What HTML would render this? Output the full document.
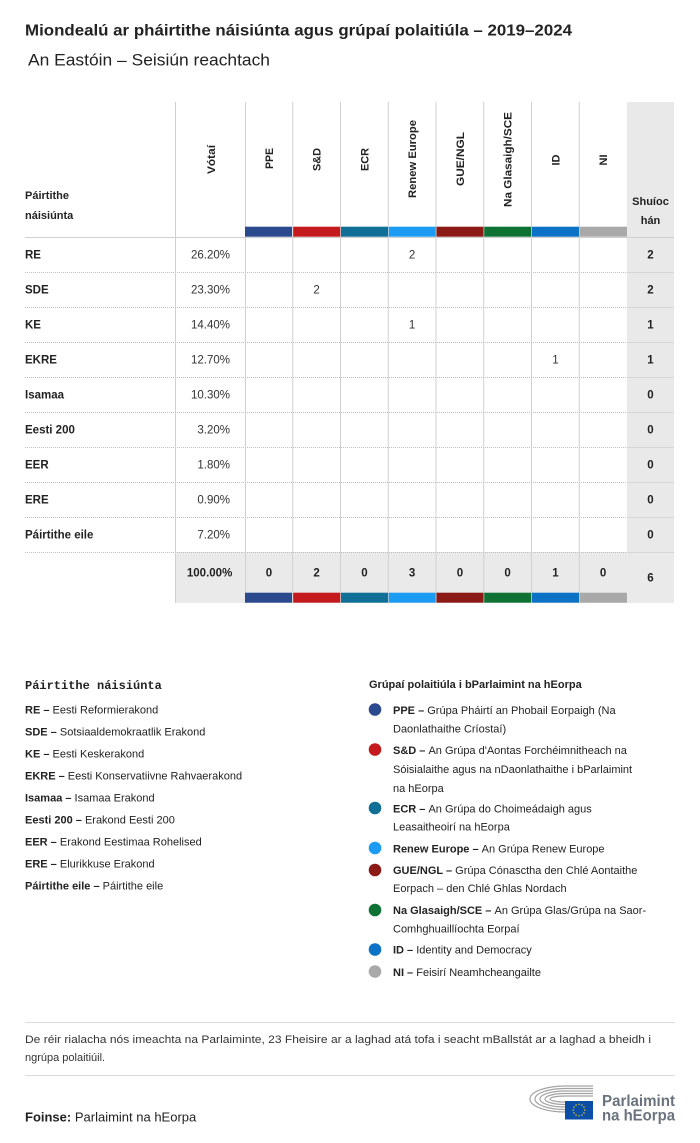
<!DOCTYPE html>
<html><head><meta charset="utf-8">
<style>
html,body{margin:0;padding:0;background:#fff;}
svg{display:block;}
text{font-family:"Liberation Sans",sans-serif;fill:#222;}
.b{font-weight:bold;}
.lbl{font-size:11.5px;font-weight:bold;}
.pct{font-size:11.5px;text-anchor:end;fill:#333;}
.num{font-size:11.5px;text-anchor:middle;fill:#333;}
.tot{font-size:11.5px;text-anchor:middle;font-weight:bold;}
.rot{font-size:11px;font-weight:bold;text-anchor:middle;}
.lg{font-size:11px;}
</style></head>
<body>
<svg width="700" height="1143" viewBox="0 0 700 1143" xmlns="http://www.w3.org/2000/svg">
<rect width="700" height="1143" fill="#fff"/>
<!-- Title -->
<text x="25" y="35.7" class="b" font-size="16" textLength="547" lengthAdjust="spacingAndGlyphs">Miondealú ar pháirtithe náisiúnta agus grúpaí polaitiúla – 2019–2024</text>
<text x="28" y="65.7" font-size="17" textLength="242" lengthAdjust="spacingAndGlyphs">An Eastóin – Seisiún reachtach</text>

<!-- Gray column and total row -->
<rect x="627" y="102" width="47" height="501" fill="#e9e9e9"/>
<rect x="175" y="552" width="499" height="51" fill="#eaeaea"/>

<!-- header bottom line -->
<line x1="25" y1="237.5" x2="674" y2="237.5" stroke="#cfcfcf" stroke-width="1"/>
<!-- dotted row lines -->
<g stroke="#bdbdbd" stroke-width="1" stroke-dasharray="1,1">
<line x1="25" y1="272.5" x2="627" y2="272.5"/>
<line x1="25" y1="307.5" x2="627" y2="307.5"/>
<line x1="25" y1="342.5" x2="627" y2="342.5"/>
<line x1="25" y1="377.5" x2="627" y2="377.5"/>
<line x1="25" y1="412.5" x2="627" y2="412.5"/>
<line x1="25" y1="447.5" x2="627" y2="447.5"/>
<line x1="25" y1="482.5" x2="627" y2="482.5"/>
<line x1="25" y1="517.5" x2="627" y2="517.5"/>
<line x1="25" y1="552.5" x2="627" y2="552.5"/>
</g>
<g stroke="#d6d6d6" stroke-width="1">
<line x1="627" y1="272.5" x2="674" y2="272.5"/>
<line x1="627" y1="307.5" x2="674" y2="307.5"/>
<line x1="627" y1="342.5" x2="674" y2="342.5"/>
<line x1="627" y1="377.5" x2="674" y2="377.5"/>
<line x1="627" y1="412.5" x2="674" y2="412.5"/>
<line x1="627" y1="447.5" x2="674" y2="447.5"/>
<line x1="627" y1="482.5" x2="674" y2="482.5"/>
<line x1="627" y1="517.5" x2="674" y2="517.5"/>
<line x1="627" y1="552.5" x2="674" y2="552.5"/>
</g>
<!-- vertical lines -->
<g stroke="#d0d0d0" stroke-width="1">
<line x1="175.5" y1="102" x2="175.5" y2="603"/>
<line x1="245.5" y1="102" x2="245.5" y2="603"/>
<line x1="292.75" y1="102" x2="292.75" y2="603"/>
<line x1="340.5" y1="102" x2="340.5" y2="603"/>
<line x1="388.25" y1="102" x2="388.25" y2="603"/>
<line x1="436" y1="102" x2="436" y2="603"/>
<line x1="483.75" y1="102" x2="483.75" y2="603"/>
<line x1="531.5" y1="102" x2="531.5" y2="603"/>
<line x1="579.25" y1="102" x2="579.25" y2="603"/>
</g>
<!-- header color bars -->
<g>
<rect x="245" y="226.7" width="47" height="10" fill="#2b4a8e"/>
<rect x="293.2" y="226.7" width="47" height="10" fill="#c4191d"/>
<rect x="341" y="226.7" width="47" height="10" fill="#0f6f96"/>
<rect x="388.7" y="226.7" width="47" height="10" fill="#1b9cf2"/>
<rect x="436.5" y="226.7" width="47" height="10" fill="#8b1a16"/>
<rect x="484.2" y="226.7" width="47" height="10" fill="#0e7235"/>
<rect x="532" y="226.7" width="47" height="10" fill="#0b72c5"/>
<rect x="579.7" y="226.7" width="47.3" height="10" fill="#a9a9a9"/>
</g>
<g>
<rect x="245" y="592.7" width="47" height="10" fill="#2b4a8e"/>
<rect x="293.2" y="592.7" width="47" height="10" fill="#c4191d"/>
<rect x="341" y="592.7" width="47" height="10" fill="#0f6f96"/>
<rect x="388.7" y="592.7" width="47" height="10" fill="#1b9cf2"/>
<rect x="436.5" y="592.7" width="47" height="10" fill="#8b1a16"/>
<rect x="484.2" y="592.7" width="47" height="10" fill="#0e7235"/>
<rect x="532" y="592.7" width="47" height="10" fill="#0b72c5"/>
<rect x="579.7" y="592.7" width="47.3" height="10" fill="#a9a9a9"/>
</g>

<!-- header labels -->
<text x="25" y="199" class="b" font-size="11">Páirtithe</text>
<text x="25" y="219" class="b" font-size="11">náisiúnta</text>
<text x="650.5" y="205" class="b" font-size="11" text-anchor="middle">Shuíoc</text>
<text x="650.5" y="224" class="b" font-size="11" text-anchor="middle">hán</text>

<text class="rot" transform="translate(215,159.5) rotate(-90)" textLength="29" lengthAdjust="spacingAndGlyphs">Vótaí</text>
<text class="rot" transform="translate(273,158.5) rotate(-90)" textLength="21" lengthAdjust="spacingAndGlyphs">PPE</text>
<text class="rot" transform="translate(320.6,159.5) rotate(-90)" textLength="23" lengthAdjust="spacingAndGlyphs">S&amp;D</text>
<text class="rot" transform="translate(368.4,159.5) rotate(-90)" textLength="23" lengthAdjust="spacingAndGlyphs">ECR</text>
<text class="rot" transform="translate(416.1,159) rotate(-90)" textLength="78" lengthAdjust="spacingAndGlyphs">Renew Europe</text>
<text class="rot" transform="translate(463.9,159) rotate(-90)" textLength="54" lengthAdjust="spacingAndGlyphs">GUE/NGL</text>
<text class="rot" transform="translate(511.6,159.5) rotate(-90)" textLength="95" lengthAdjust="spacingAndGlyphs">Na Glasaigh/SCE</text>
<text class="rot" transform="translate(559.4,160) rotate(-90)">ID</text>
<text class="rot" transform="translate(607.1,160) rotate(-90)">NI</text>

<!-- rows -->
<g>
<text x="25" y="258.5" class="lbl">RE</text>
<text x="25" y="293.5" class="lbl">SDE</text>
<text x="25" y="328.5" class="lbl">KE</text>
<text x="25" y="363.5" class="lbl">EKRE</text>
<text x="25" y="398.5" class="lbl">Isamaa</text>
<text x="25" y="433.5" class="lbl">Eesti 200</text>
<text x="25" y="468.5" class="lbl">EER</text>
<text x="25" y="503.5" class="lbl">ERE</text>
<text x="25" y="538.5" class="lbl">Páirtithe eile</text>

<text x="230" y="258.5" class="pct">26.20%</text>
<text x="230" y="293.5" class="pct">23.30%</text>
<text x="230" y="328.5" class="pct">14.40%</text>
<text x="230" y="363.5" class="pct">12.70%</text>
<text x="230" y="398.5" class="pct">10.30%</text>
<text x="230" y="433.5" class="pct">3.20%</text>
<text x="230" y="468.5" class="pct">1.80%</text>
<text x="230" y="503.5" class="pct">0.90%</text>
<text x="230" y="538.5" class="pct">7.20%</text>

<text x="412.1" y="258.5" class="num">2</text>
<text x="316.6" y="293.5" class="num">2</text>
<text x="412.1" y="328.5" class="num">1</text>
<text x="555.4" y="363.5" class="num">1</text>

<text x="650.5" y="258.5" class="tot">2</text>
<text x="650.5" y="293.5" class="tot">2</text>
<text x="650.5" y="328.5" class="tot">1</text>
<text x="650.5" y="363.5" class="tot">1</text>
<text x="650.5" y="398.5" class="tot">0</text>
<text x="650.5" y="433.5" class="tot">0</text>
<text x="650.5" y="468.5" class="tot">0</text>
<text x="650.5" y="503.5" class="tot">0</text>
<text x="650.5" y="538.5" class="tot">0</text>
</g>
<!-- totals -->
<g>
<text x="232.3" y="576.5" class="tot" style="text-anchor:end">100.00%</text>
<text x="268.9" y="576.5" class="tot">0</text>
<text x="316.6" y="576.5" class="tot">2</text>
<text x="364.4" y="576.5" class="tot">0</text>
<text x="412.1" y="576.5" class="tot">3</text>
<text x="459.9" y="576.5" class="tot">0</text>
<text x="507.6" y="576.5" class="tot">0</text>
<text x="555.4" y="576.5" class="tot">1</text>
<text x="603.1" y="576.5" class="tot">0</text>
<text x="650.5" y="581.5" class="tot">6</text>
</g>

<!-- left legend -->
<text x="25" y="689" style="font-family:'Liberation Mono',monospace" font-size="12" font-weight="bold">Páirtithe náisiúnta</text>
<g>
<text x="25" y="713.5" class="lg"><tspan class="b">RE – </tspan>Eesti Reformierakond</text>
<text x="25" y="735.5" class="lg"><tspan class="b">SDE – </tspan>Sotsiaaldemokraatlik Erakond</text>
<text x="25" y="757.5" class="lg"><tspan class="b">KE – </tspan>Eesti Keskerakond</text>
<text x="25" y="779.5" class="lg"><tspan class="b">EKRE – </tspan>Eesti Konservatiivne Rahvaerakond</text>
<text x="25" y="801.5" class="lg"><tspan class="b">Isamaa – </tspan>Isamaa Erakond</text>
<text x="25" y="823.5" class="lg"><tspan class="b">Eesti 200 – </tspan>Erakond Eesti 200</text>
<text x="25" y="845.5" class="lg"><tspan class="b">EER – </tspan>Erakond Eestimaa Rohelised</text>
<text x="25" y="867.5" class="lg"><tspan class="b">ERE – </tspan>Elurikkuse Erakond</text>
<text x="25" y="889.5" class="lg"><tspan class="b">Páirtithe eile – </tspan>Páirtithe eile</text>
</g>

<!-- right legend -->
<text x="369" y="688" class="b" font-size="11">Grúpaí polaitiúla i bParlaimint na hEorpa</text>
<g>
<circle cx="375" cy="709.5" r="6.3" fill="#2b4a8e"/>
<circle cx="375" cy="749.5" r="6.3" fill="#c4191d"/>
<circle cx="375" cy="808" r="6.3" fill="#0f6f96"/>
<circle cx="375" cy="848" r="6.3" fill="#1b9cf2"/>
<circle cx="375" cy="870" r="6.3" fill="#8b1a16"/>
<circle cx="375" cy="910" r="6.3" fill="#0e7235"/>
<circle cx="375" cy="949.5" r="6.3" fill="#0b72c5"/>
<circle cx="375" cy="971.5" r="6.3" fill="#a9a9a9"/>
</g>
<g>
<text x="393" y="714" class="lg"><tspan class="b">PPE – </tspan>Grúpa Pháirtí an Phobail Eorpaigh (Na</text>
<text x="393" y="732.5" class="lg">Daonlathaithe Críostaí)</text>
<text x="393" y="754" class="lg"><tspan class="b">S&amp;D – </tspan>An Grúpa d'Aontas Forchéimnitheach na</text>
<text x="393" y="773" class="lg">Sóisialaithe agus na nDaonlathaithe i bParlaimint</text>
<text x="393" y="792" class="lg">na hEorpa</text>
<text x="393" y="812.5" class="lg"><tspan class="b">ECR – </tspan>An Grúpa do Choimeádaigh agus</text>
<text x="393" y="830.5" class="lg">Leasaitheoirí na hEorpa</text>
<text x="393" y="852.5" class="lg"><tspan class="b">Renew Europe – </tspan>An Grúpa Renew Europe</text>
<text x="393" y="874" class="lg"><tspan class="b">GUE/NGL – </tspan>Grúpa Cónasctha den Chlé Aontaithe</text>
<text x="393" y="892" class="lg">Eorpach – den Chlé Ghlas Nordach</text>
<text x="393" y="914" class="lg"><tspan class="b">Na Glasaigh/SCE – </tspan>An Grúpa Glas/Grúpa na Saor-</text>
<text x="393" y="932.5" class="lg">Comhghuaillíochta Eorpaí</text>
<text x="393" y="953.5" class="lg"><tspan class="b">ID – </tspan>Identity and Democracy</text>
<text x="393" y="976" class="lg"><tspan class="b">NI – </tspan>Feisirí Neamhcheangailte</text>
</g>

<!-- footer -->
<line x1="25" y1="1022.5" x2="675" y2="1022.5" stroke="#dcdcdc" stroke-width="1"/>
<text x="25" y="1043" font-size="11" style="fill:#333" textLength="626" lengthAdjust="spacingAndGlyphs">De réir rialacha nós imeachta na Parlaiminte, 23 Fheisire ar a laghad atá tofa i seacht mBallstát ar a laghad a bheidh i</text>
<text x="25" y="1061" font-size="11" style="fill:#333">ngrúpa polaitiúil.</text>
<line x1="25" y1="1075.5" x2="675" y2="1075.5" stroke="#dcdcdc" stroke-width="1"/>
<text x="25" y="1121.5" font-size="13"><tspan class="b">Foinse:</tspan> Parlaimint na hEorpa</text>

<!-- logo -->
<g fill="none" stroke="#a3a3a3" stroke-width="1.2">
<path d="M 593 1086 L 565 1086 A 35 13 0 0 0 565 1112"/>
<path d="M 593 1088.5 L 565 1088.5 A 30 10.5 0 0 0 565 1109.5"/>
<path d="M 593 1091 L 565 1091 A 25 8 0 0 0 565 1107"/>
<path d="M 593 1093.5 L 565 1093.5 A 20 5.5 0 0 0 565 1104.5"/>
<path d="M 593 1096 L 565 1096 A 15 3 0 0 0 565 1102"/>
</g>
<rect x="565" y="1101" width="28" height="18.5" fill="#0b4ea6"/>
<g fill="#ffd617">
<circle cx="579" cy="1104.3" r="0.7"/>
<circle cx="581.9" cy="1105.1" r="0.7"/>
<circle cx="584" cy="1107.2" r="0.7"/>
<circle cx="584.8" cy="1110.1" r="0.7"/>
<circle cx="584" cy="1113" r="0.7"/>
<circle cx="581.9" cy="1115.1" r="0.7"/>
<circle cx="579" cy="1115.9" r="0.7"/>
<circle cx="576.1" cy="1115.1" r="0.7"/>
<circle cx="574" cy="1113" r="0.7"/>
<circle cx="573.2" cy="1110.1" r="0.7"/>
<circle cx="574" cy="1107.2" r="0.7"/>
<circle cx="576.1" cy="1105.1" r="0.7"/>
</g>
<text x="602" y="1106" font-size="15.5" font-weight="bold" style="fill:#6a737d" textLength="73" lengthAdjust="spacingAndGlyphs">Parlaimint</text>
<text x="602" y="1120.5" font-size="15.5" font-weight="bold" style="fill:#6a737d" textLength="73" lengthAdjust="spacingAndGlyphs">na hEorpa</text>
</svg>
</body></html>
